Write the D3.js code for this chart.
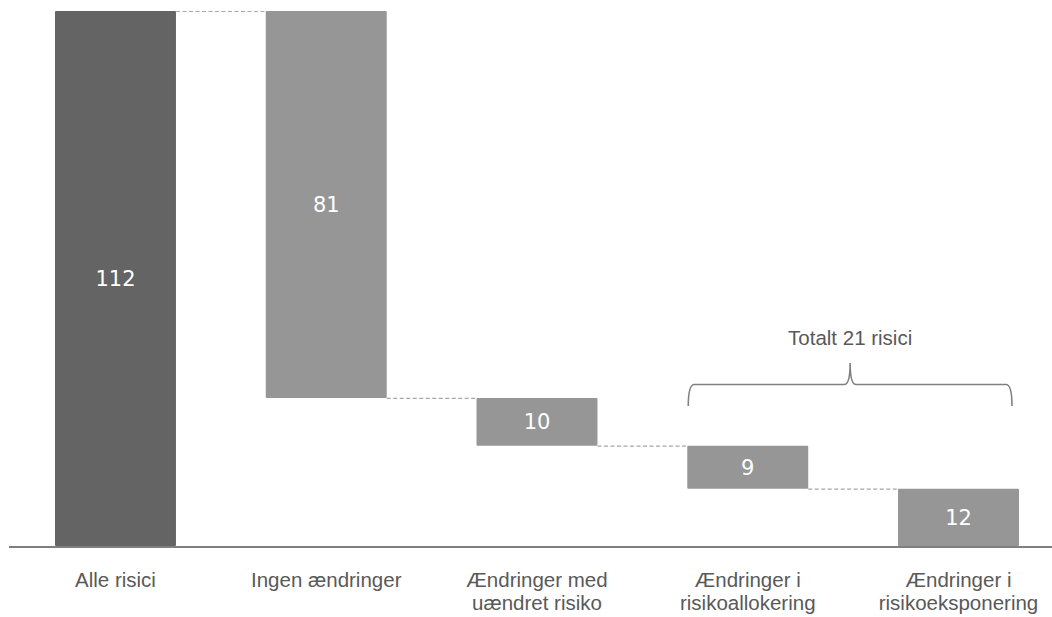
<!DOCTYPE html>
<html>
<head>
<meta charset="utf-8">
<script src="https://cdn.jsdelivr.net/npm/d3@7"></script>
<style>
  html, body { margin: 0; padding: 0; background: #fff; }
  svg { display: block; }
</style>
</head>
<body>
<svg id="chart" width="1052" height="617"></svg>
<script>
// ---- data ----
const categories = [
  ["Alle risici"],
  ["Ingen ændringer"],
  ["Ændringer med", "uændret risiko"],
  ["Ændringer i", "risikoallokering"],
  ["Ændringer i", "risikoeksponering"]
];
const values = [112, 81, 10, 9, 12];
const isTotal = [true, false, false, false, false];
const braceLabel = "Totalt 21 risici";
const braceFrom = 3, braceTo = 4;

// ---- waterfall geometry from data ----
const bars = [];
let level = 0;
values.forEach((v, i) => {
  if (isTotal[i]) { bars.push({ i, y0: 0, y1: v, v }); level = v; }
  else { bars.push({ i, y0: level - v, y1: level, v }); level -= v; }
});

const svg = d3.select("#chart");
const x = d3.scaleBand().domain(d3.range(categories.length))
  .range([55, 1019]).paddingInner(0.426).paddingOuter(0);
const y = d3.scaleLinear().domain([0, 112]).range([546, 11]);

// connectors
for (let k = 0; k < bars.length - 1; k++) {
  const a = bars[k], b = bars[k + 1];
  const yy = isTotal[k] ? a.y1 : a.y0;
  svg.append("line")
    .attr("x1", x(k) + x.bandwidth()).attr("x2", x(k + 1))
    .attr("y1", y(yy) + 0.5).attr("y2", y(yy) + 0.5)
    .attr("stroke", "#a6a6a6").attr("stroke-width", 1.2)
    .attr("stroke-dasharray", "4,2.5");
}

// bars
svg.selectAll("rect.bar").data(bars).enter().append("rect")
  .attr("class", "bar")
  .attr("x", d => x(d.i))
  .attr("width", x.bandwidth())
  .attr("y", d => y(d.y1))
  .attr("height", d => y(d.y0) - y(d.y1))
  .attr("rx", 1)
  .attr("fill", (d) => isTotal[d.i] ? "#646464" : "#969696");

// value labels
svg.selectAll("text.val").data(bars).enter().append("text")
  .attr("class", "val")
  .attr("x", d => x(d.i) + x.bandwidth() / 2)
  .attr("y", d => (y(d.y0) + y(d.y1)) / 2)
  .attr("dy", "0.36em")
  .attr("text-anchor", "middle")
  .attr("font-family", "'DejaVu Sans', Verdana, sans-serif")
  .attr("font-size", 21)
  .attr("fill", "#ffffff")
  .text(d => d.v);

// axis baseline
svg.append("line")
  .attr("x1", 9).attr("x2", 1052)
  .attr("y1", 547).attr("y2", 547)
  .attr("stroke", "#7f7f7f").attr("stroke-width", 2);

// category labels
const catG = svg.selectAll("text.cat").data(categories).enter().append("text")
  .attr("class", "cat")
  .attr("text-anchor", "middle")
  .attr("font-family", "'Liberation Sans', Arial, sans-serif")
  .attr("font-size", 20.5)
  .attr("fill", "#595959");
catG.each(function(lines, i) {
  const t = d3.select(this);
  lines.forEach((ln, j) => {
    t.append("tspan")
      .attr("x", x(i) + x.bandwidth() / 2)
      .attr("y", 587 + j * 23)
      .text(ln);
  });
});

// brace
const bx0 = x(braceFrom) + 1, bx1 = x(braceTo) + x.bandwidth() - 7;
const bmid = (bx0 + bx1) / 2;
const bTop = 384.5, bBot = 406, tipY = 363;
const p = d3.path();
p.moveTo(bx0, bBot);
p.quadraticCurveTo(bx0, bTop, bx0 + 6, bTop);
p.lineTo(bmid - 6, bTop);
p.quadraticCurveTo(bmid, bTop, bmid, tipY);
p.quadraticCurveTo(bmid, bTop, bmid + 6, bTop);
p.lineTo(bx1 - 6, bTop);
p.quadraticCurveTo(bx1, bTop, bx1, bBot);
svg.append("path").attr("d", p.toString())
  .attr("fill", "none").attr("stroke", "#808080").attr("stroke-width", 1.6);

svg.append("text")
  .attr("x", bmid).attr("y", 345)
  .attr("text-anchor", "middle")
  .attr("font-family", "'Liberation Sans', Arial, sans-serif")
  .attr("font-size", 20.5)
  .attr("fill", "#595959")
  .text(braceLabel);
</script>
</body>
</html>
